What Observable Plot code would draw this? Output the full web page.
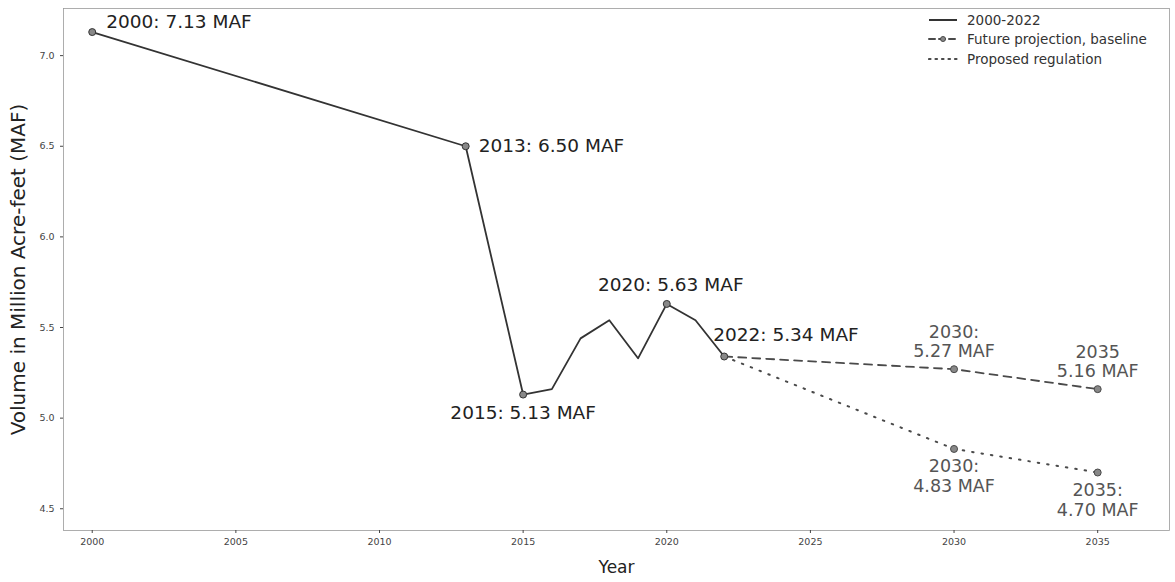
<!DOCTYPE html>
<html>
<head>
<meta charset="utf-8">
<script src="https://cdn.jsdelivr.net/npm/d3@7"></script>
<script src="https://cdn.jsdelivr.net/npm/@observablehq/plot@0.6"></script>
<style>
  html, body { margin: 0; padding: 0; background: #fff; }
  #wrap { position: relative; width: 1175px; height: 582px; font-family: "DejaVu Sans", sans-serif; }
  #legend { position: absolute; left: 928px; top: 10px; font-size: 13.5px; color: #333; }
  .row { display: flex; align-items: center; height: 19.5px; }
  .row svg { margin-right: 9px; }
</style>
</head>
<body>
<div id="wrap"><div id="legend"></div></div>
<script>
// ---- data ----
const years   = [2000, 2013, 2015, 2016, 2017, 2018, 2019, 2020, 2021, 2022];
const volumes = [7.13, 6.50, 5.13, 5.16, 5.44, 5.54, 5.33, 5.63, 5.54, 5.34];
const projYears = [2022, 2030, 2035];
const baselineValues = [5.34, 5.27, 5.16];
const proposedValues = [5.34, 4.83, 4.70];
const labeledYears = [2000, 2013, 2015, 2020, 2022];
const xTicks = [2000, 2005, 2010, 2015, 2020, 2025, 2030, 2035];
const yTicks = [4.5, 5.0, 5.5, 6.0, 6.5, 7.0];
const legendLabels = ["2000-2022", "Future projection, baseline", "Proposed regulation"];
const baselineLabels = ["2030:\n5.27 MAF", "2035\n5.16 MAF"];
const proposedLabels = ["2030:\n4.83 MAF", "2035:\n4.70 MAF"];
const xLabel = "Year";
const yLabel = "Volume in Million Acre-feet (MAF)";

// ---- tables ----
const hist = years.map((x, i) => ({x, y: volumes[i]}));
const base = projYears.map((x, i) => ({x, y: baselineValues[i]}));
const prop = projYears.map((x, i) => ({x, y: proposedValues[i]}));
const histPts = hist.filter(d => labeledYears.includes(d.x));

// label placement (style, not data)
const histLabelStyle = {
  2000: {dx: 14, dy: -10, textAnchor: "start"},
  2013: {dx: 13, dy: 0, textAnchor: "start"},
  2015: {dx: 0, dy: 19, textAnchor: "middle"},
  2020: {dx: 4, dy: -19, textAnchor: "middle"},
  2022: {dx: -11, dy: -21, textAnchor: "start"}
};

const lineColor = "#333";
const projColor = "#4a4a4a";

const annotationMarks = histPts.map(d => {
  const s = histLabelStyle[d.x];
  return Plot.text([d], {x: "x", y: "y", text: v => `${v.x}: ${v.y.toFixed(2)} MAF`,
    dx: s.dx, dy: s.dy, textAnchor: s.textAnchor, fontSize: 18.5, fill: "#222"});
});

const baseLab = base.slice(1).map((d, i) => ({...d, label: baselineLabels[i]}));
const propLab = prop.slice(1).map((d, i) => ({...d, label: proposedLabels[i]}));

const chart = Plot.plot({
  width: 1175,
  height: 582,
  marginLeft: 63,
  marginRight: 6,
  marginTop: 8,
  marginBottom: 52,
  style: {fontFamily: "DejaVu Sans, sans-serif", background: "transparent", overflow: "visible"},
  x: {domain: [1999, 2037.5], label: null},
  y: {domain: [4.38, 7.26], label: null},
  marks: [
    Plot.frame({stroke: "#9a9a9a", strokeWidth: 0.8}),
    Plot.axisX({ticks: xTicks, tickFormat: d => String(d), tickSize: 3, tickPadding: 5, fontSize: 9.5, fill: "#444", stroke: "#444", label: null}),
    Plot.axisY({ticks: yTicks, tickFormat: d => d.toFixed(1), tickSize: 3, tickPadding: 6, fontSize: 9.5, fill: "#444", stroke: "#444", label: null}),
    Plot.text([xLabel], {frameAnchor: "bottom", dy: 37, lineAnchor: "middle", textAnchor: "middle", fontSize: 17, fill: "#222"}),
    Plot.text([yLabel], {frameAnchor: "left", dx: -45, rotate: -90, lineAnchor: "middle", textAnchor: "middle", fontSize: 20, fill: "#222"}),
    Plot.line(hist, {x: "x", y: "y", stroke: lineColor, strokeWidth: 1.8}),
    Plot.line(base, {x: "x", y: "y", stroke: projColor, strokeWidth: 1.8, strokeDasharray: "8,6"}),
    Plot.line(prop, {x: "x", y: "y", stroke: projColor, strokeWidth: 2, strokeDasharray: "1.5,8", strokeLinecap: "round"}),
    Plot.dot(histPts, {x: "x", y: "y", r: 3.5, fill: "#888", stroke: lineColor, strokeWidth: 1}),
    Plot.dot(base.slice(1), {x: "x", y: "y", r: 3.5, fill: "#888", stroke: projColor, strokeWidth: 1}),
    Plot.dot(prop.slice(1), {x: "x", y: "y", r: 3.5, fill: "#888", stroke: projColor, strokeWidth: 1}),
    ...annotationMarks,
    Plot.text(baseLab, {x: "x", y: "y", text: "label", dy: -28, lineAnchor: "middle", lineHeight: 1.12, fontSize: 17.5, fill: "#555"}),
    Plot.text(propLab, {x: "x", y: "y", text: "label", dy: 27, lineAnchor: "middle", lineHeight: 1.12, fontSize: 17.5, fill: "#555"})
  ]
});
document.getElementById("wrap").prepend(chart);

// ---- legend ----
const legendStyles = [
  {dash: null, marker: false, width: 2},
  {dash: "6,4", marker: true, width: 2},
  {dash: "1.5,5", marker: false, width: 2.2}
];
const legend = document.getElementById("legend");
legendLabels.forEach((lab, i) => {
  const s = legendStyles[i];
  const row = document.createElement("div");
  row.className = "row";
  row.innerHTML = `<svg width="30" height="10"><line x1="1" y1="5" x2="29" y2="5" stroke="${i ? projColor : lineColor}" stroke-width="${s.width}" ${s.dash ? `stroke-dasharray="${s.dash}" stroke-linecap="round"` : ""}/>${s.marker ? `<circle cx="15" cy="5" r="2.5" fill="#888" stroke="${projColor}"/>` : ""}</svg><span>${lab}</span>`;
  legend.appendChild(row);
});
</script>
</body>
</html>
